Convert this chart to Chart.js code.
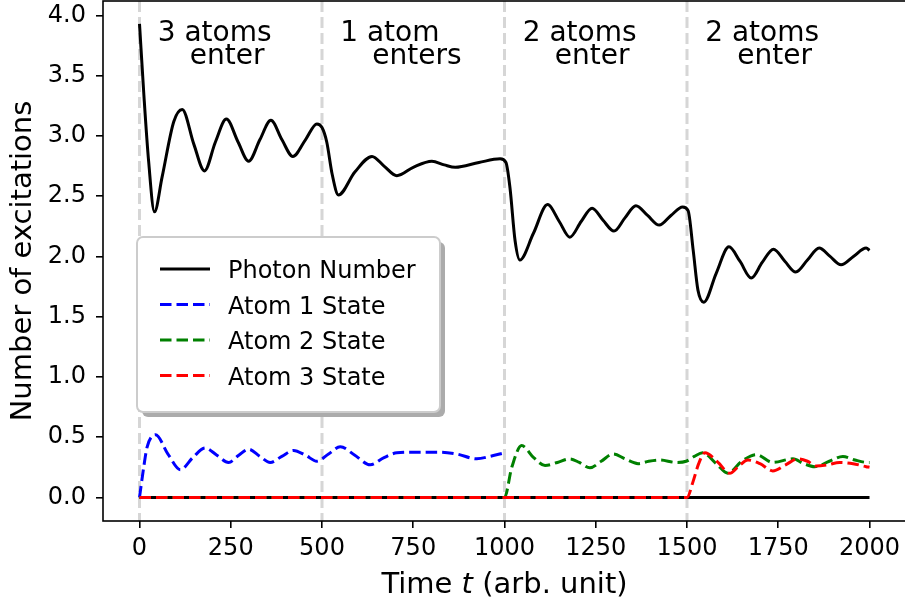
<!DOCTYPE html>
<html>
<head>
<meta charset="utf-8">
<script src="https://cdn.jsdelivr.net/npm/chart.js@4/dist/chart.umd.min.js"></script>
<style>
  html, body { margin: 0; padding: 0; background: #fff; overflow: hidden; }
  #wrap { position: relative; width: 910px; height: 602px; }
</style>
</head>
<body>
<div id="wrap"><canvas id="grafico"></canvas></div>
<script>
// photon number in the cavity
const photonT = [0, 12, 25, 41, 62, 94, 117, 149, 178, 208, 238, 270, 299, 330, 360, 390, 420, 455, 486,
    500, 513, 528, 545, 590, 637, 670, 705, 750, 801, 835, 865, 930, 988,
    1004, 1015, 1029, 1042, 1079, 1118, 1150, 1179, 1210, 1240, 1270, 1300, 1330, 1360, 1392, 1424, 1456, 1488,
    1503, 1517, 1530, 1546, 1580, 1615, 1645, 1676, 1706, 1737, 1768, 1798, 1830, 1862, 1892, 1922, 1956, 1991, 2000];
const photonN = [3.93, 3.34, 2.79, 2.37, 2.66, 3.12, 3.22, 2.93, 2.71, 2.95, 3.14, 2.95, 2.79, 2.97, 3.13, 2.97, 2.83, 2.97, 3.10,
    3.07, 2.95, 2.68, 2.51, 2.70, 2.83, 2.75, 2.67, 2.74, 2.79, 2.76, 2.74, 2.78, 2.81,
    2.78, 2.57, 2.13, 1.97, 2.19, 2.43, 2.29, 2.16, 2.29, 2.40, 2.30, 2.21, 2.32, 2.42, 2.34, 2.26, 2.34, 2.41,
    2.38, 2.05, 1.72, 1.62, 1.86, 2.08, 1.96, 1.82, 1.95, 2.06, 1.96, 1.87, 1.97, 2.07, 2.00, 1.93, 2.00, 2.07, 2.05];

// atom excitations
const atom1T = [0, 12, 21, 44, 78, 112, 146, 180, 212, 244, 272, 299, 330, 358, 390, 422, 455, 486,
    518, 550, 590, 632, 670, 705, 760, 823, 869, 924, 960, 1000];
const atom1V = [0, 0.26, 0.42, 0.52, 0.36, 0.23, 0.33, 0.41, 0.35, 0.29, 0.35, 0.40, 0.34, 0.29, 0.34, 0.39, 0.35, 0.30,
    0.36, 0.42, 0.35, 0.27, 0.33, 0.37, 0.375, 0.375, 0.36, 0.32, 0.34, 0.37];

const atom2T = [0, 1000, 1020, 1047, 1080, 1111, 1145, 1179, 1205, 1234, 1265, 1298, 1330, 1366, 1395, 1425, 1471, 1498,
    1520, 1543, 1580, 1612, 1650, 1690, 1735, 1790, 1820, 1850, 1890, 1927, 1960, 1995, 2000];
const atom2V = [0, 0, 0.25, 0.43, 0.33, 0.265, 0.29, 0.32, 0.29, 0.245, 0.30, 0.36, 0.32, 0.28, 0.30, 0.31, 0.29, 0.30,
    0.34, 0.37, 0.28, 0.20, 0.30, 0.355, 0.29, 0.32, 0.28, 0.255, 0.30, 0.34, 0.31, 0.29, 0.29];

const atom3T = [0, 1500, 1517, 1532, 1549, 1585, 1617, 1642, 1667, 1700, 1735, 1770, 1804, 1830, 1854, 1885, 1918, 1955, 1991, 2000];
const atom3V = [0, 0, 0.135, 0.28, 0.37, 0.29, 0.20, 0.26, 0.31, 0.28, 0.22, 0.27, 0.32, 0.30, 0.26, 0.27, 0.29, 0.28, 0.255, 0.25];

// baseline at zero
const zeroT = [0, 2000];
const zeroV = [0, 0];

// moments when atoms enter the cavity
const entryTimes = [0, 500, 1000, 1500];
const entryLabels = [['3 atoms', 'enter'], ['1 atom', 'enters'], ['2 atoms', 'enter'], ['2 atoms', 'enter']];

const xTickValues = [0, 250, 500, 750, 1000, 1250, 1500, 1750, 2000];
const yTickValues = [0, 0.5, 1.0, 1.5, 2.0, 2.5, 3.0, 3.5, 4.0];

const FONTE = '"DejaVu Sans", sans-serif';

function pontos(ts, vs) {
    var lista = [];
    for (var i = 0; i < ts.length; i++) {
        lista.push({ x: ts[i], y: vs[i] });
    }
    return lista;
}

// vertical dashed lines at each entry
const linhasEntrada = {
    id: 'linhasEntrada',
    beforeDatasetsDraw(chart) {
        const { ctx, chartArea, scales } = chart;
        ctx.save();
        ctx.strokeStyle = '#d6d6d6';
        ctx.lineWidth = 3;
        ctx.setLineDash([11, 5]);
        entryTimes.forEach(t => {
            const x = scales.x.getPixelForValue(t);
            ctx.beginPath();
            ctx.moveTo(x, chartArea.top);
            ctx.lineTo(x, chartArea.bottom);
            ctx.stroke();
        });
        ctx.restore();
    }
};

// texts above each region, frame, x title and legend box
const extras = {
    id: 'extras',
    afterDraw(chart) {
        const { ctx, chartArea, scales } = chart;
        ctx.save();

        // region labels
        ctx.fillStyle = '#000';
        ctx.font = '28px ' + FONTE;
        ctx.textBaseline = 'alphabetic';
        ctx.textAlign = 'left';
        entryTimes.forEach((t, i) => {
            const x = scales.x.getPixelForValue(t + 50);
            ctx.fillText(entryLabels[i][0], x, scales.y.getPixelForValue(3.79));
            ctx.fillText(entryLabels[i][1], x + 32, scales.y.getPixelForValue(3.60));
        });

        // axes frame
        ctx.strokeStyle = '#000';
        ctx.lineWidth = 1.6;
        ctx.strokeRect(chartArea.left, chartArea.top, chartArea.right - chartArea.left, chartArea.bottom - chartArea.top);

        // x title with italic t
        const base = 593;
        const partes = [['Time ', 'normal'], ['t', 'italic'], [' (arb. unit)', 'normal']];
        let largura = 0;
        partes.forEach(p => { ctx.font = p[1] + ' 29px ' + FONTE; largura += ctx.measureText(p[0]).width; });
        let xx = (chartArea.left + chartArea.right) / 2 - largura / 2;
        partes.forEach(p => {
            ctx.font = p[1] + ' 29px ' + FONTE;
            ctx.fillText(p[0], xx, base);
            xx += ctx.measureText(p[0]).width;
        });

        // legend
        const L = 137, T = 237, W = 303, H = 175, R = 6;
        ctx.fillStyle = 'rgba(0,0,0,0.33)';
        ctx.beginPath();
        ctx.roundRect(L + 5, T + 5, W, H, R);
        ctx.fill();
        ctx.fillStyle = '#fff';
        ctx.strokeStyle = '#cccccc';
        ctx.lineWidth = 2;
        ctx.beginPath();
        ctx.roundRect(L, T, W, H, R);
        ctx.fill();
        ctx.stroke();

        const itens = chart.data.datasets.filter(d => d.label);
        ctx.font = '24px ' + FONTE;
        itens.forEach((d, i) => {
            const cy = 269 + i * 35.5;
            ctx.strokeStyle = d.borderColor;
            ctx.lineWidth = 3;
            ctx.setLineDash(d.borderDash || []);
            ctx.beginPath();
            ctx.moveTo(160, cy);
            ctx.lineTo(210, cy);
            ctx.stroke();
            ctx.setLineDash([]);
            ctx.fillStyle = '#000';
            ctx.fillText(d.label, 228, cy + 9);
        });

        ctx.restore();
    }
};

const tracejado = [11.5, 5];

const config = {
    type: 'line',
    data: {
        datasets: [
            { label: 'Photon Number', data: pontos(photonT, photonN), borderColor: '#000000', borderWidth: 3, order: 1 },
            { label: 'Atom 1 State', data: pontos(atom1T, atom1V), borderColor: '#0000ff', borderWidth: 3, borderDash: tracejado, order: 4 },
            { label: 'Atom 2 State', data: pontos(atom2T, atom2V), borderColor: '#008000', borderWidth: 3, borderDash: tracejado, order: 3 },
            { label: 'Atom 3 State', data: pontos(atom3T, atom3V), borderColor: '#ff0000', borderWidth: 3, borderDash: tracejado, order: 2 },
            { label: '', data: pontos(zeroT, zeroV), borderColor: '#000000', borderWidth: 3, order: 5 }
        ]
    },
    options: {
        responsive: true,
        maintainAspectRatio: false,
        devicePixelRatio: 1,
        animation: false,
        layout: { padding: { left: 0, top: 1, right: 4, bottom: 0 } },
        elements: {
            point: { radius: 0 },
            line: { cubicInterpolationMode: 'monotone', fill: false }
        },
        plugins: {
            legend: { display: false },
            tooltip: { enabled: false }
        },
        scales: {
            x: {
                type: 'linear',
                min: -100,
                max: 2100,
                afterFit(scale) {
                    scale.height = 81;
                    scale.paddingLeft = 0;
                    scale.paddingRight = 0;
                },
                afterBuildTicks(scale) { scale.ticks = xTickValues.map(v => ({ value: v })); },
                grid: { display: true, drawOnChartArea: false, drawTicks: true, tickLength: 7, color: '#000', lineWidth: 1.6 },
                border: { display: false },
                ticks: {
                    autoSkip: false,
                    maxRotation: 0,
                    padding: 6,
                    color: '#000',
                    font: { family: FONTE, size: 24 },
                    callback: v => String(v)
                }
            },
            y: {
                min: -0.196,
                max: 4.12,
                afterFit(scale) {
                    scale.width = 103;
                    scale.paddingTop = 0;
                    scale.paddingBottom = 0;
                },
                afterBuildTicks(scale) { scale.ticks = yTickValues.map(v => ({ value: v })); },
                grid: { display: true, drawOnChartArea: false, drawTicks: true, tickLength: 7, color: '#000', lineWidth: 1.6 },
                border: { display: false },
                title: {
                    display: true,
                    text: 'Number of excitations',
                    color: '#000',
                    font: { family: FONTE, size: 29 },
                    padding: { top: 6, bottom: 0 }
                },
                ticks: {
                    autoSkip: false,
                    padding: 10,
                    color: '#000',
                    font: { family: FONTE, size: 24 },
                    callback: v => v.toFixed(1)
                }
            }
        }
    },
    plugins: [linhasEntrada, extras]
};

const grafico = new Chart(document.getElementById('grafico'), config);
</script>
</body>
</html>
